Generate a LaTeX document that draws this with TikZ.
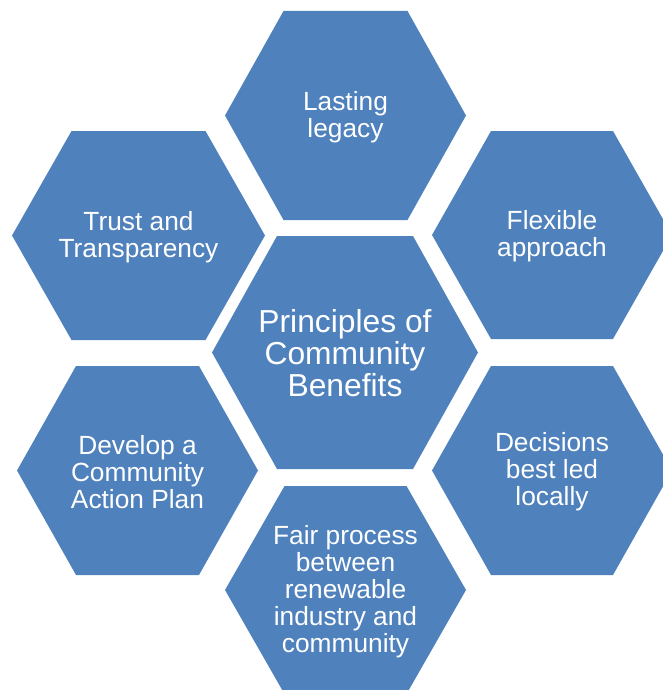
\documentclass[tikz,border=0pt]{standalone}
\usepackage{fontspec}
\setmainfont{Liberation Sans}
\begin{document}
\definecolor{cellblue}{HTML}{4F81BD}
\tikzset{
  cellfill/.style={fill=cellblue, draw=none},
  celltext/.style={text=white, align=center, inner sep=0pt, yshift=-1.5pt,
    font=\fontsize{26.3}{27}\selectfont},
  hubtext/.style={text=white, align=center, inner sep=0pt, yshift=-1pt,
    font=\fontsize{31.8}{32}\selectfont},
}
% \hexcell{name}{cx}{cy}{half width}{half top edge}{half height}{text style}{text}
\newcommand{\hexcell}[8]{%
  \fill[cellfill] (#2-#4,#3) -- (#2-#5,#3-#6) -- (#2+#5,#3-#6)
    -- (#2+#4,#3) -- (#2+#5,#3+#6) -- (#2-#5,#3+#6) -- cycle;
  \node[#7] (#1) at (#2,#3) {#8};%
}
\begin{tikzpicture}[x=1pt, y=-1pt]
  \useasboundingbox (0,0) rectangle (663,690);
  \begin{scope}
    \clip (0,0) rectangle (663,690);
    \hexcell{legacy}{345.5}{115.5}{120.5}{62}{104.5}{celltext}{Lasting\\legacy}
    \hexcell{trust}{138.5}{235.5}{126.5}{67}{104.5}{celltext}{Trust and\\Transparency}
    \hexcell{flexible}{552}{235}{120}{61}{104}{celltext}{Flexible\\approach}
    \hexcell{hub}{345}{352.5}{133}{68}{116.5}{hubtext}{Principles of\\Community\\Benefits}
    \hexcell{plan}{137.5}{470.5}{120.5}{61.5}{104.5}{celltext}{Develop a\\Community\\Action Plan}
    \hexcell{local}{552}{470.5}{120}{61}{104.5}{celltext}{Decisions\\best led\\locally}
    \hexcell{fair}{345.5}{590}{120.5}{61}{104}{celltext}{Fair process\\between\\renewable\\industry and\\community}
  \end{scope}
\end{tikzpicture}
\end{document}
